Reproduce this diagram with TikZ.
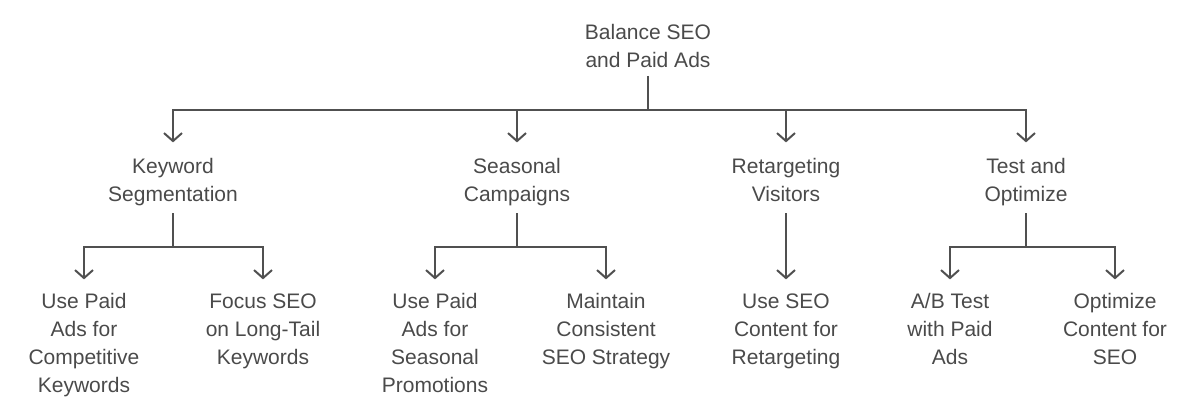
\documentclass[tikz,border=0pt]{standalone}
\usepackage{fontspec}
\setmainfont{Liberation Sans}
\usetikzlibrary{arrows.meta}
\definecolor{inkgray}{HTML}{4A4A4A}
\definecolor{linegray}{HTML}{505050}

\begin{document}
\begin{tikzpicture}[
    x=1pt, y=-1pt,
    txt/.style={anchor=north, align=center, inner sep=0pt, text=inkgray, font=\fontsize{21}{28}\selectfont},
    link/.style={draw=linegray, line width=2pt},
    arr/.style={link, -{Straight Barb[length=8pt, width=18pt]}}
]
\useasboundingbox (0,0) rectangle (1200,414);

% Root
\node[txt] (root) at (648, 19.4) {\strut Balance SEO\\and Paid Ads\strut};

% First level
\node[txt] (kw) at (173, 153.4) {\strut Keyword\\Segmentation\strut};
\node[txt] (sc) at (517, 153.4) {\strut Seasonal\\Campaigns\strut};
\node[txt] (rt) at (786, 153.4) {\strut Retargeting\\Visitors\strut};
\node[txt] (to) at (1026, 153.4) {\strut Test and\\Optimize\strut};

% Second level
\node[txt] (kwpaid) at (84, 288.4) {\strut Use Paid\\Ads for\\Competitive\\Keywords\strut};
\node[txt] (kwseo) at (263, 288.4) {\strut Focus SEO\\on Long-Tail\\Keywords\strut};
\node[txt] (scpaid) at (435, 288.4) {\strut Use Paid\\Ads for\\Seasonal\\Promotions\strut};
\node[txt] (scseo) at (606, 288.4) {\strut Maintain\\Consistent\\SEO Strategy\strut};
\node[txt] (rtseo) at (786, 288.4) {\strut Use SEO\\Content for\\Retargeting\strut};
\node[txt] (topaid) at (950, 288.4) {\strut A/B Test\\with Paid\\Ads\strut};
\node[txt] (toseo) at (1115, 288.4) {\strut Optimize\\Content for\\SEO\strut};

% Bus lines
\coordinate (topbus) at (648, 110);
\coordinate (kwbus) at (173, 247);
\coordinate (scbus) at (517, 247);
\coordinate (tobus) at (1026, 247);

% Connectors
\draw[link] (root.south) -- (topbus);
\foreach \n in {kw, sc, rt, to}
    \draw[arr] (topbus) -| ([yshift=11pt]\n.north);

\draw[link] ([yshift=-3.6pt]kw.south) -- (kwbus);
\foreach \n in {kwpaid, kwseo}
    \draw[arr] (kwbus) -| ([yshift=9pt]\n.north);

\draw[link] ([yshift=-3.6pt]sc.south) -- (scbus);
\foreach \n in {scpaid, scseo}
    \draw[arr] (scbus) -| ([yshift=9pt]\n.north);

\draw[arr] ([yshift=-3.6pt]rt.south) -- ([yshift=9pt]rtseo.north);

\draw[link] ([yshift=-3.6pt]to.south) -- (tobus);
\foreach \n in {topaid, toseo}
    \draw[arr] (tobus) -| ([yshift=9pt]\n.north);

\end{tikzpicture}
\end{document}
